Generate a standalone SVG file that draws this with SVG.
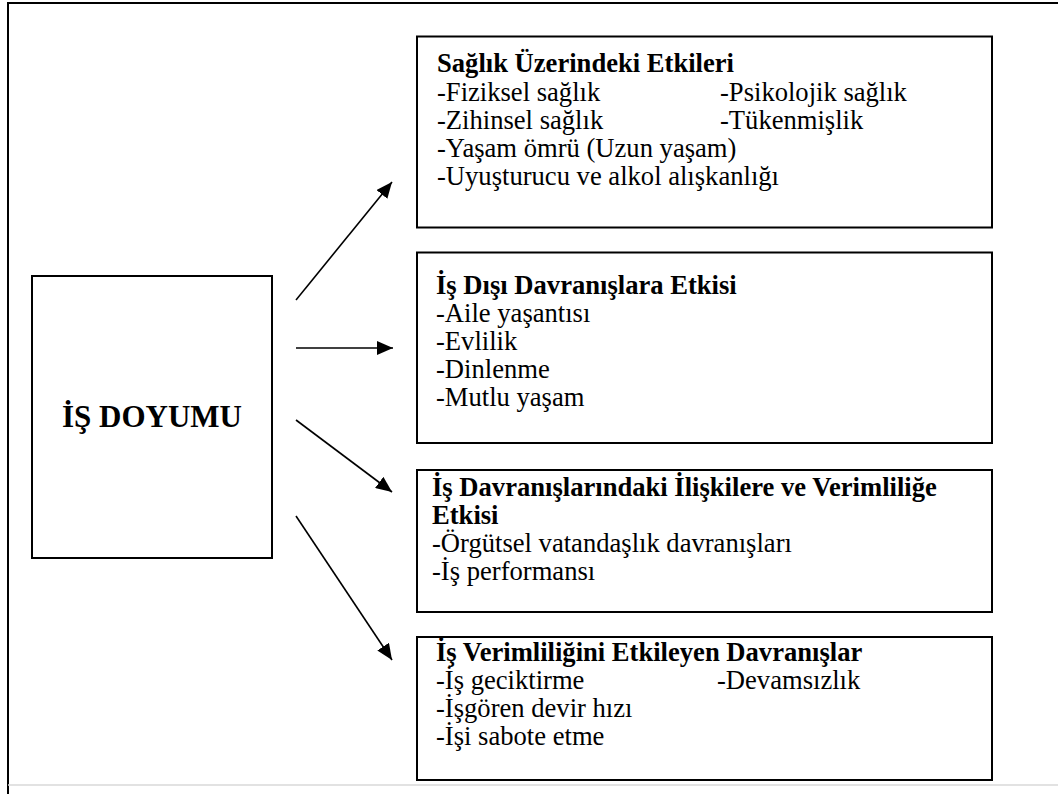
<svg xmlns="http://www.w3.org/2000/svg" width="1058" height="794" viewBox="0 0 1058 794">
  <style>
    .box { fill: #ffffff; stroke: #000000; stroke-width: 2; }
    .frame { fill: none; stroke: #000000; stroke-width: 2; }
    text { font-family: 'Liberation Serif', 'Tinos', 'DejaVu Serif', serif; fill: #000000; }
    .t { font-size: 26.6px; }
    .b { font-weight: bold; }
    .big { font-size: 31px; font-weight: bold; }
    .conn { stroke: #000000; stroke-width: 1.6; fill: none; marker-end: url(#head); }
  </style>
  <defs>
    <marker id="head" viewBox="0 0 16 14" refX="16" refY="7" markerWidth="16" markerHeight="14" markerUnits="userSpaceOnUse" orient="auto">
      <path d="M0,0 L16,7 L0,14 Z" fill="#000000"/>
    </marker>
  </defs>

  <rect width="1058" height="794" fill="#ffffff"/>

  <!-- page frame -->
  <path class="frame" d="M8,794 L8,3 L1058,3"/>
  <line x1="8" y1="785" x2="1058" y2="785" stroke="#d9d9d9" stroke-width="1.5"/>

  <!-- connectors -->
  <g id="connectors">
    <line class="conn" x1="296" y1="300" x2="392" y2="182"/>
    <line class="conn" x1="296" y1="348" x2="393" y2="348"/>
    <line class="conn" x1="296" y1="420" x2="392" y2="492"/>
    <line class="conn" x1="296" y1="516" x2="392" y2="660"/>
  </g>

  <!-- source node -->
  <g id="is-doyumu">
    <rect class="box" x="32" y="276" width="240" height="282"/>
    <text class="big" x="152" y="427" text-anchor="middle">İŞ DOYUMU</text>
  </g>

  <g id="saglik">
    <rect class="box" x="417" y="36.5" width="575" height="191"/>
    <text class="t b" x="437" y="72">Sağlık Üzerindeki Etkileri</text>
    <text class="t" x="437" y="101">-Fiziksel sağlık</text>
    <text class="t" x="720" y="101">-Psikolojik sağlık</text>
    <text class="t" x="437" y="129">-Zihinsel sağlık</text>
    <text class="t" x="720" y="129">-Tükenmişlik</text>
    <text class="t" x="437" y="157">-Yaşam ömrü (Uzun yaşam)</text>
    <text class="t" x="437" y="185">-Uyuşturucu ve alkol alışkanlığı</text>
  </g>

  <g id="is-disi">
    <rect class="box" x="417" y="252.5" width="575" height="190.5"/>
    <text class="t b" x="436" y="294">İş Dışı Davranışlara Etkisi</text>
    <text class="t" x="436" y="322">-Aile yaşantısı</text>
    <text class="t" x="436" y="350">-Evlilik</text>
    <text class="t" x="436" y="378">-Dinlenme</text>
    <text class="t" x="436" y="406">-Mutlu yaşam</text>
  </g>

  <g id="is-davranislari">
    <rect class="box" x="417" y="470" width="575" height="142"/>
    <text class="t b" x="432" y="496">İş Davranışlarındaki İlişkilere ve Verimliliğe</text>
    <text class="t b" x="432" y="524">Etkisi</text>
    <text class="t" x="432" y="552">-Örgütsel vatandaşlık davranışları</text>
    <text class="t" x="432" y="580">-İş performansı</text>
  </g>

  <g id="is-verimliligi">
    <rect class="box" x="417" y="637" width="575" height="143"/>
    <text class="t b" x="436" y="661">İş Verimliliğini Etkileyen Davranışlar</text>
    <text class="t" x="436" y="689">-İş geciktirme</text>
    <text class="t" x="717" y="689">-Devamsızlık</text>
    <text class="t" x="436" y="717">-İşgören devir hızı</text>
    <text class="t" x="436" y="745">-İşi sabote etme</text>
  </g>
</svg>
